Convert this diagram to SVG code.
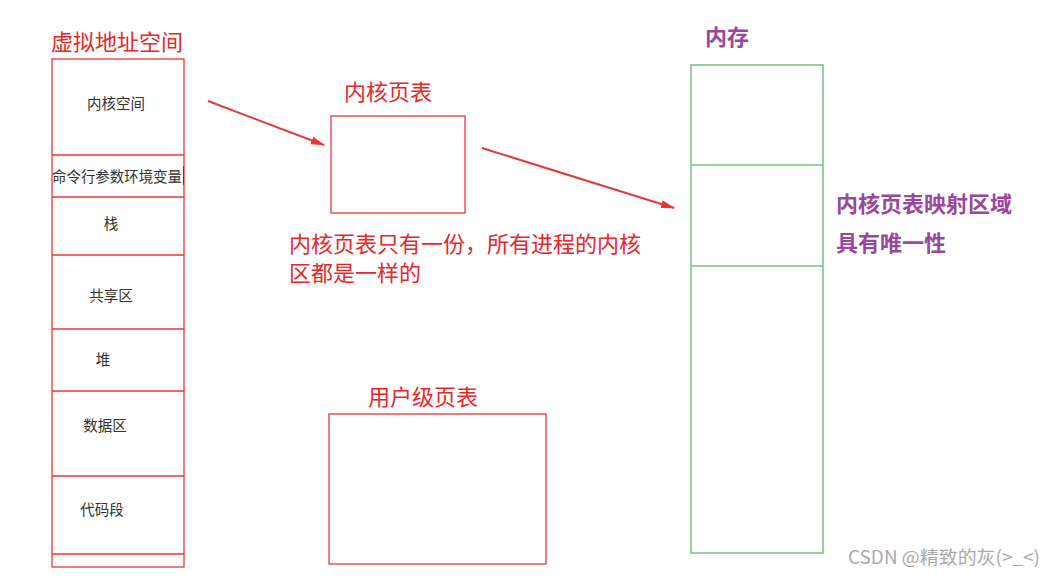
<svg xmlns="http://www.w3.org/2000/svg" width="1058" height="578" viewBox="0 0 1058 578">
<style>
.red{fill:none;stroke:#e8383a;stroke-width:1.3}
.grn{fill:none;stroke:#74c47a;stroke-width:1.5}
.lbl{font-family:"Noto Sans CJK SC","Liberation Sans",sans-serif;font-size:14.5px;fill:#333}
.rt{font-family:"Noto Sans CJK SC","Liberation Sans",sans-serif;font-size:22px;fill:#e8262b}
.pt{font-family:"Noto Sans CJK SC","Liberation Sans",sans-serif;font-size:22px;font-weight:bold;fill:#9a489c}
.wm{font-family:"Noto Sans CJK SC","Liberation Sans",sans-serif;font-size:18px;fill:#aaa}
</style>
<defs>
<marker id="ah" markerWidth="14" markerHeight="8" refX="13" refY="4" orient="auto" markerUnits="userSpaceOnUse">
<path d="M0,0 L14,4 L0,8 Z" fill="#e8383a"/>
</marker>
</defs>
<rect width="1058" height="578" fill="#fff"/>
<g id="vas">
<text class="rt" x="51" y="50">虚拟地址空间</text>
<rect class="red" x="52" y="59" width="132" height="508"/>
<line class="red" x1="52" y1="155" x2="184" y2="155"/>
<line class="red" x1="52" y1="197" x2="184" y2="197"/>
<line class="red" x1="52" y1="255" x2="184" y2="255"/>
<line class="red" x1="52" y1="329" x2="184" y2="329"/>
<line class="red" x1="52" y1="391" x2="184" y2="391"/>
<line class="red" x1="52" y1="476" x2="184" y2="476"/>
<line class="red" x1="52" y1="554" x2="184" y2="554"/>
<text class="lbl" x="116" y="109" text-anchor="middle">内核空间</text>
<text class="lbl" x="52" y="182" textLength="130" lengthAdjust="spacingAndGlyphs">命令行参数环境变量</text>
<line x1="183.5" y1="166" x2="183.5" y2="185" stroke="#444" stroke-width="1"/>
<text class="lbl" x="111" y="229" text-anchor="middle">栈</text>
<text class="lbl" x="111" y="301" text-anchor="middle">共享区</text>
<text class="lbl" x="103" y="365" text-anchor="middle">堆</text>
<text class="lbl" x="105" y="431" text-anchor="middle">数据区</text>
<text class="lbl" x="102" y="515" text-anchor="middle">代码段</text>
</g>
<g id="kpt">
<text class="rt" x="344" y="100">内核页表</text>
<rect class="red" x="331" y="116" width="134" height="97"/>
</g>
<g id="note">
<text class="rt" x="289" y="252">内核页表只有一份，所有进程的内核</text>
<text class="rt" x="289" y="281">区都是一样的</text>
</g>
<g id="upt">
<text class="rt" x="368" y="405">用户级页表</text>
<rect class="red" x="329" y="414" width="217" height="150"/>
</g>
<g id="mem">
<text class="pt" x="705" y="45" font-size="21">内存</text>
<rect class="grn" x="691" y="65" width="132" height="488"/>
<line class="grn" x1="691" y1="165" x2="823" y2="165"/>
<line class="grn" x1="691" y1="266" x2="823" y2="266"/>
</g>
<g id="memnote">
<text class="pt" x="836" y="212">内核页表映射区域</text>
<text class="pt" x="836" y="251">具有唯一性</text>
</g>
<g id="connectors">
<line x1="208" y1="101" x2="324" y2="145" stroke="#e8383a" stroke-width="2" marker-end="url(#ah)"/>
<line x1="482" y1="148" x2="674" y2="208" stroke="#e8383a" stroke-width="2" marker-end="url(#ah)"/>
</g>
<text class="wm" x="848" y="564" textLength="192" lengthAdjust="spacingAndGlyphs">CSDN @精致的灰(&gt;_&lt;)</text>
</svg>
